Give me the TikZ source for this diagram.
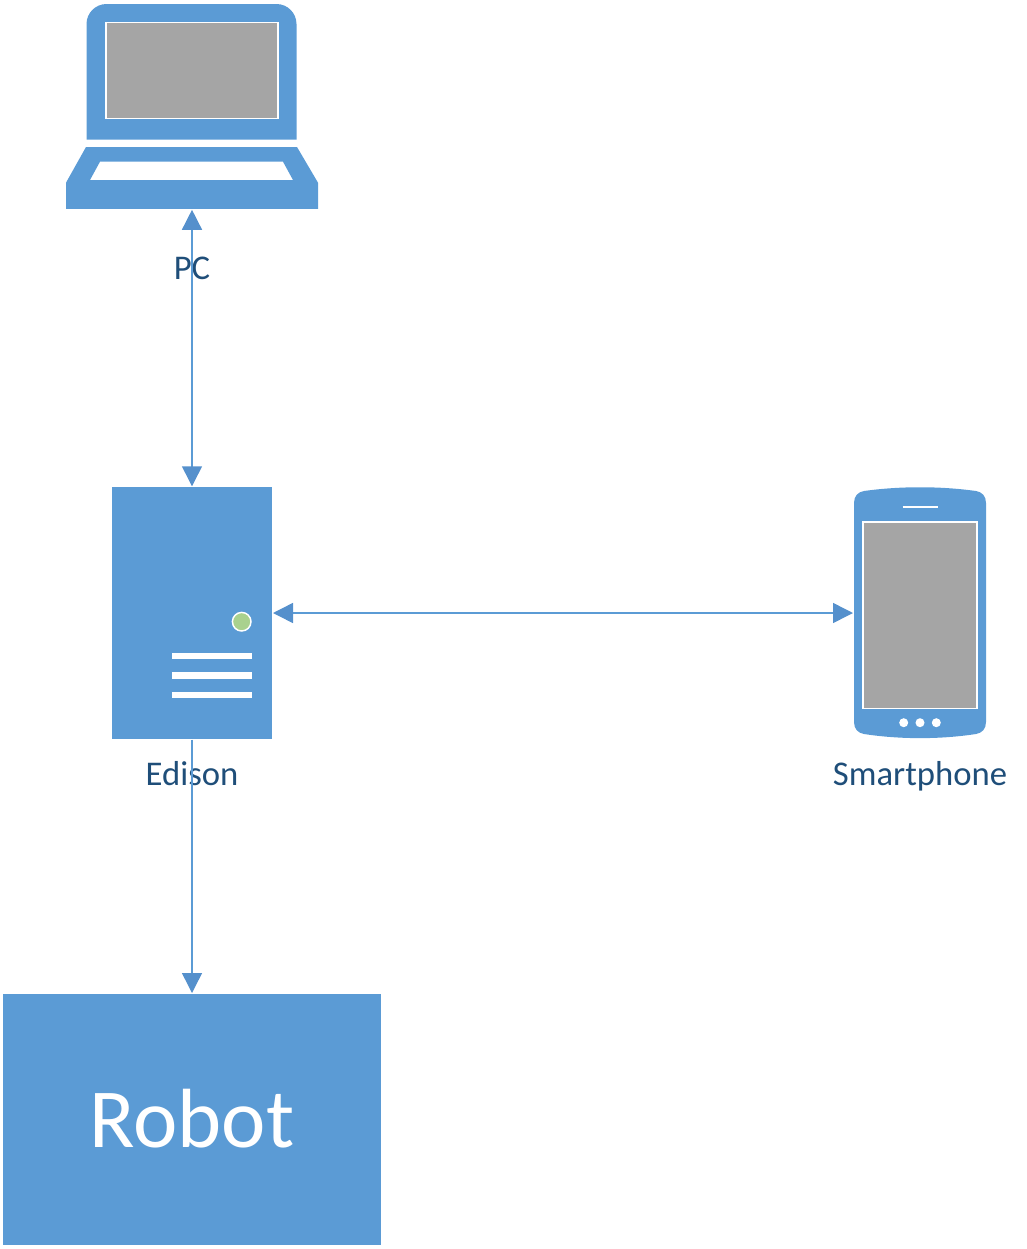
\documentclass[tikz,border=0pt]{standalone}
\usepackage{fontspec}
\setmainfont{Carlito}
\usetikzlibrary{arrows.meta}
\definecolor{iconblue}{RGB}{91,155,213}
\definecolor{tipblue}{RGB}{85,144,204}
\definecolor{labelblue}{RGB}{31,78,121}
\definecolor{screengray}{RGB}{165,165,165}
\definecolor{ledgreen}{RGB}{169,209,142}
\tikzset{every picture/.style={line width=0.75pt}}
\tikzset{
  iconbox/.style={inner sep=0pt,outer sep=0.75pt,minimum width=#1},
  device/.style={fill=iconblue,inner sep=0pt,outer sep=0.75pt},
  caption/.style={text=labelblue,font=\fontsize{26}{30}\selectfont,inner sep=0pt,anchor=base},
  screen/.style={fill=screengray,draw=white,line width=1.1pt},
  link/.style={draw=iconblue,line width=1.1pt},
  linktip/.style={{Triangle[length=15pt,width=15pt,color=tipblue]}-{Triangle[length=15pt,width=15pt,color=tipblue]}},
  linkend/.style={-{Triangle[length=15pt,width=15pt,color=tipblue]}}
}

\begin{document}
\begin{tikzpicture}[x=0.75pt,y=0.75pt,yscale=-1,xscale=1]
\useasboundingbox (0,0) rectangle (1027,1249);

%Shape: laptop lid
\draw [fill=iconblue,draw=none] (86.5,139.5) -- (86.5,24) .. controls (86.5,13) and (95.5,4) .. (106.5,4) -- (276.5,4) .. controls (287.5,4) and (296.5,13) .. (296.5,24) -- (296.5,139.5) -- cycle ;
\draw [screen] (105.8,22.5) rectangle (278,118.3) ;
%Shape: laptop base
\draw [fill=iconblue,draw=none,even odd rule] (86,147) -- (297,147) -- (318,182.7) -- (318,208.8) -- (66,208.8) -- (66,182.7) -- cycle (100,161.7) -- (283,161.7) -- (293,180) -- (90,180) -- cycle ;
\node (pc) [iconbox=189pt,minimum height=153.6pt] at (192,106.4) {};
\node (pclabel) [caption] at (192,279) {PC};

%Shape: server
\node (edison) [device,minimum width=120pt,minimum height=188.6pt] at (192,613) {};
\draw [fill=ledgreen,draw=white,line width=1.1pt] (241.7,621.7) circle (9.3) ;
\foreach \bary in {656.2,675.5,694.8}
  \draw [draw=white,line width=4.8pt] (172.3,\bary) -- (251.7,\bary) ;
\node (edisonlabel) [caption] at (192,785) {Edison};

%Shape: smartphone
\draw [fill=iconblue,draw=none] (854,503) .. controls (854,496) and (858,492) .. (864,491) .. controls (900,486) and (940,486) .. (976,491) .. controls (982,492) and (986,496) .. (986,503) -- (986,722) .. controls (986,729) and (982,733) .. (976,734) .. controls (940,739.5) and (900,739.5) .. (864,734) .. controls (858,733) and (854,729) .. (854,722) -- cycle ;
\draw [draw=white,line width=1.3pt] (902.7,506.7) -- (937.7,506.7) ;
\draw [screen] (862.9,522) rectangle (977.2,708.5) ;
\foreach \dotx in {903.7,920,936.3}
  \fill [white] (\dotx,722.7) circle (4.5) ;
\node (phone) [iconbox=99pt,minimum height=188.6pt] at (920,613) {};
\node (phonelabel) [caption] at (920,785) {Smartphone};

%Shape: robot
\node (robot) [device,minimum width=283.5pt,minimum height=188.25pt,text=white,font=\fontsize{63}{72}\selectfont] at (192,1119.5) {\raisebox{2.5pt}{Robot}};

%Straight Lines
\draw [link,linktip] (pc) -- (edison) ;
\draw [link,linktip] (edison) -- (phone) ;
\draw [link,linkend] (edison) -- (robot) ;

\end{tikzpicture}
\end{document}
